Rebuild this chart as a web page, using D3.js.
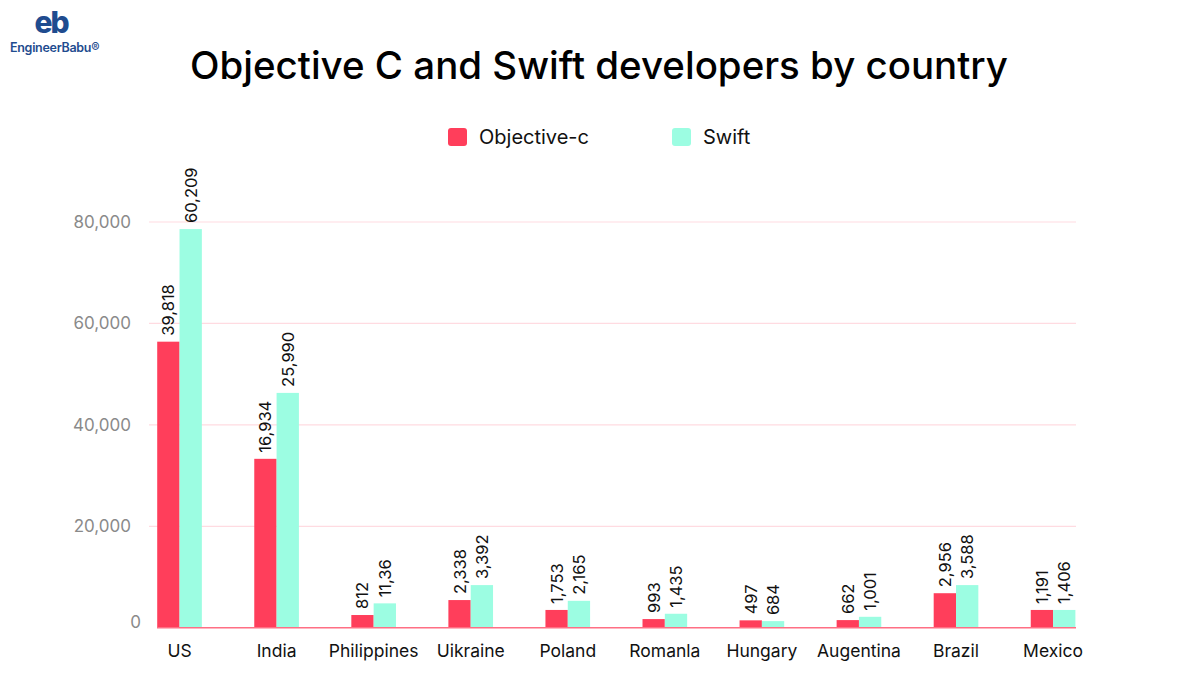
<!DOCTYPE html>
<html>
<head>
<meta charset="utf-8">
<script src="https://cdnjs.cloudflare.com/ajax/libs/d3/7.8.5/d3.min.js"></script>
<style>
  html, body { margin: 0; padding: 0; background: #fff; }
  svg { display: block; font-family: "Inter", "Open Sans", sans-serif; }
</style>
</head>
<body>
<div id="chart"></div>
<script>
// Data
const countries = ["US", "India", "Philippines", "Uikraine", "Poland", "Romanla", "Hungary", "Augentina", "Brazil", "Mexico"];
const seriesNames = ["Objective-c", "Swift"];
// bar heights as drawn
const objectiveC = [56400, 33300, 2500, 5450, 3500, 1700, 1450, 1500, 6800, 3500];
const swift = [78600, 46300, 4800, 8400, 5300, 2750, 1300, 2150, 8400, 3500];
// value labels as printed on the chart
const objectiveCLabels = ["39,818", "16,934", "812", "2,338", "1,753", "993", "497", "662", "2,956", "1,191"];
const swiftLabels = ["60,209", "25,990", "11,36", "3,392", "2,165", "1,435", "684", "1,001", "3,588", "1,406"];
const yTicks = [0, 20000, 40000, 60000, 80000];

const width = 1200, height = 678;
const colors = { "Objective-c": "#ff3e5b", "Swift": "#9cfde2" };

const svg = d3.select("#chart").append("svg")
    .attr("width", width)
    .attr("height", height);

// Scales
const x = d3.scaleBand()
    .domain(countries)
    .range([131, 1101.6])
    .paddingInner(0.54)
    .paddingOuter(0.27);

const xSub = d3.scaleBand()
    .domain(seriesNames)
    .range([0, x.bandwidth()]);

const y = d3.scaleLinear()
    .domain([0, 80000])
    .range([627.7, 222]);

// Gridlines
svg.append("g")
    .selectAll("line")
    .data(yTicks.filter(d => d > 0))
    .enter().append("line")
    .attr("x1", 149)
    .attr("x2", 1076)
    .attr("y1", d => y(d))
    .attr("y2", d => y(d))
    .attr("stroke", "#ffdbe1")
    .attr("stroke-width", 1.2);

// Y tick labels
svg.append("g")
    .selectAll("text")
    .data(yTicks)
    .enter().append("text")
    .attr("x", d => d === 0 ? 141 : 131)
    .attr("y", d => y(d) + (d === 0 ? 0 : 6))
    .attr("text-anchor", "end")
    .style("font-size", "17px")
    .style("fill", "#8a8a8a")
    .text(d => d3.format(",")(d));

// Bars
const rows = countries.map((c, i) => ({
    country: c,
    values: [
        { key: "Objective-c", value: objectiveC[i], label: objectiveCLabels[i] },
        { key: "Swift", value: swift[i], label: swiftLabels[i] }
    ]
}));

const groups = svg.append("g")
    .selectAll("g")
    .data(rows)
    .enter().append("g")
    .attr("transform", d => `translate(${x(d.country)},0)`);

groups.selectAll("rect")
    .data(d => d.values)
    .enter().append("rect")
    .attr("x", d => xSub(d.key))
    .attr("y", d => y(d.value))
    .attr("width", xSub.bandwidth())
    .attr("height", d => y(0) - y(d.value))
    .attr("fill", d => colors[d.key]);

// Value labels, rotated
groups.selectAll("text")
    .data(d => d.values)
    .enter().append("text")
    .attr("transform", d => `translate(${xSub(d.key) + xSub.bandwidth() / 2},${y(d.value) - 6}) rotate(-90)`)
    .attr("dy", "0.36em")
    .attr("text-anchor", "start")
    .style("font-size", "16.5px")
    .style("fill", "#111")
    .text(d => d.label);

// Baseline
svg.append("line")
    .attr("x1", 157)
    .attr("x2", 1076)
    .attr("y1", y(0))
    .attr("y2", y(0))
    .attr("stroke", "#ff6f84")
    .attr("stroke-width", 1.5);

// X labels
svg.append("g")
    .selectAll("text")
    .data(countries)
    .enter().append("text")
    .attr("x", d => x(d) + x.bandwidth() / 2)
    .attr("y", 657)
    .attr("text-anchor", "middle")
    .style("font-size", "17.5px")
    .style("fill", "#111")
    .text(d => d);

// Title
const title = svg.append("text")
    .attr("x", 599)
    .attr("y", 79)
    .attr("text-anchor", "middle")
    .style("font-size", "39px")
    .style("font-weight", "500")
    .style("fill", "#000")
    .text("Objective C and Swift developers by country");
// fit the title to the width it has in the picture
const tl = title.node().getComputedTextLength();
title.style("font-size", (39 * 818 / tl) + "px");

// Legend
const legendX = [448, 672];
const legend = svg.append("g")
    .selectAll("g")
    .data(seriesNames)
    .enter().append("g")
    .attr("transform", (d, i) => `translate(${legendX[i]},128)`);

legend.append("rect")
    .attr("width", 19)
    .attr("height", 18)
    .attr("rx", 3)
    .attr("fill", d => colors[d]);

legend.append("text")
    .attr("x", 31)
    .attr("y", 16)
    .style("font-size", "20px")
    .style("font-weight", "400")
    .style("fill", "#111")
    .text(d => d);

// Logo
const logo = svg.append("g").attr("fill", "#1f4c8f");
logo.append("text")
    .attr("x", 51)
    .attr("y", 33)
    .attr("text-anchor", "middle")
    .style("font-size", "30px")
    .style("font-weight", "800")
    .style("letter-spacing", "-2px")
    .text("eb");
logo.append("text")
    .attr("x", 10)
    .attr("y", 52)
    .style("font-size", "12.5px")
    .style("font-weight", "600")
    .style("letter-spacing", "-0.3px")
    .text("EngineerBabu®");
</script>
</body>
</html>
